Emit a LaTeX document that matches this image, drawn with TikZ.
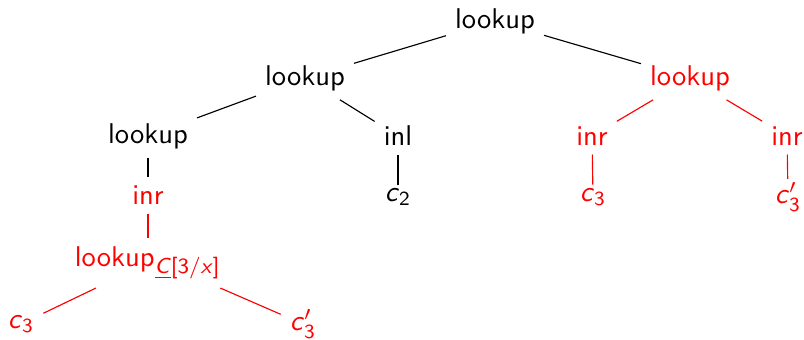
\documentclass[tikz,border=0pt]{standalone}
\usepackage{amsmath}
\renewcommand{\familydefault}{\sfdefault}
\newcommand{\cvar}{\textsf{\textit{c}}}
\newcommand{\cthree}{\cvar$_{\textsf{3}}$}
\newcommand{\cthreep}{\cvar$'_{\textsf{3}}$}
\begin{document}
\begin{tikzpicture}[x=0.35pt,y=-0.35pt,
  tn/.style={inner sep=3pt, font=\normalsize},
  rn/.style={tn, text=red},
  cn/.style={inner xsep=3pt, inner ysep=1pt},
  re/.style={draw=red},
  every path/.style={line width=0.4pt}]
\useasboundingbox (0,0) rectangle (804,339);
\node[tn] (root) at (495,21) {lookup};
\node[tn] (l1) at (305,78) {lookup};
\node[rn] (r1) at (690,78) {lookup};
\node[tn] (l2) at (148,136) {lookup};
\node[tn] (inl) at (398,136) {inl};
\node[rn] (rinr1) at (592,136) {inr};
\node[rn] (rinr2) at (787,136) {inr};
\node[rn] (linr) at (148,195) {inr};
\node[tn,cn] (c2) at (398,197) {\cvar$_{\textsf{2}}$};
\node[rn,cn] (rc3) at (593,197) {\cthree};
\node[rn,cn] (rc3p) at (788,197) {\cthreep};
\node[rn] (lk) at (148,263) {lookup$_{\text{\fontsize{7.6}{9}\selectfont\underline{\textit{C}}[3/\textit{x}]}}$};
\node[rn,cn] (bc3) at (21,324) {\cthree};
\node[rn,cn] (bc3p) at (303,324) {\cthreep};
\draw (root) -- (l1);
\draw (root) -- (r1);
\draw (l1) -- (l2);
\draw (l1) -- (inl);
\draw (inl) -- (c2);
\draw (l2) -- (linr);
\draw[re] (r1) -- (rinr1);
\draw[re] (r1) -- (rinr2);
\draw[re] (rinr1) -- (rc3);
\draw[re] (rinr2) -- (rc3p);
\draw[re] (linr) -- (lk);
\draw[re] (lk) -- (bc3);
\draw[re] ([xshift=-3.5pt]lk.south east) -- (bc3p);
\end{tikzpicture}
\end{document}
